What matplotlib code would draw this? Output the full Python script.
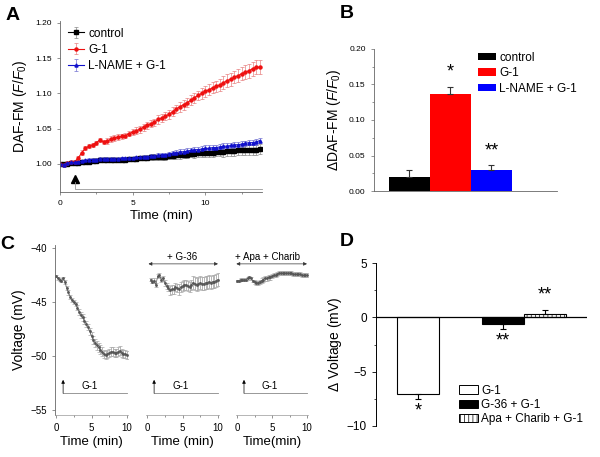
import numpy as np
import matplotlib
matplotlib.use("Agg")
import matplotlib.pyplot as plt
from matplotlib.patches import Patch

plt.rcParams['font.family'] = ['Liberation Sans', 'DejaVu Sans']
plt.rcParams['mathtext.fontset'] = 'custom'
plt.rcParams['mathtext.rm'] = 'Liberation Sans'
plt.rcParams['mathtext.it'] = 'Liberation Sans:italic'
plt.rcParams['hatch.linewidth'] = 0.5

# ---------------- Panel A data (DAF-FM F/F0 vs time, 0.25 min sampling) ----------------
a_step = 0.25
a_series_names = ["control", "G-1", "L-NAME + G-1"]
a_control = [1.000, 1.000, 1.000, 1.001, 1.001, 1.001, 1.002, 1.002, 1.003, 1.004,
             1.004, 1.005, 1.005, 1.005, 1.005, 1.006, 1.006, 1.006, 1.006, 1.007,
             1.007, 1.007, 1.008, 1.008, 1.008, 1.009, 1.009, 1.009, 1.010, 1.010,
             1.011, 1.011, 1.012, 1.012, 1.013, 1.013, 1.014, 1.014, 1.015, 1.015,
             1.016, 1.016, 1.016, 1.017, 1.017, 1.017, 1.018, 1.018, 1.018, 1.019,
             1.019, 1.019, 1.020, 1.020, 1.020, 1.021]
a_control_err = [0.001, 0.001, 0.001, 0.001, 0.001, 0.001, 0.001, 0.001, 0.001, 0.001,
                 0.001, 0.001, 0.002, 0.002, 0.002, 0.002, 0.002, 0.002, 0.002, 0.002,
                 0.002, 0.003, 0.003, 0.003, 0.003, 0.003, 0.003, 0.004, 0.004, 0.004,
                 0.004, 0.004, 0.005, 0.005, 0.005, 0.005, 0.005, 0.006, 0.006, 0.006,
                 0.006, 0.006, 0.006, 0.006, 0.006, 0.007, 0.007, 0.007, 0.007, 0.007,
                 0.007, 0.007, 0.007, 0.007, 0.007, 0.007]
a_g1 = [1.000, 0.998, 1.001, 1.002, 1.003, 1.008, 1.016, 1.022, 1.025, 1.027,
        1.030, 1.034, 1.031, 1.032, 1.035, 1.037, 1.038, 1.039, 1.040, 1.043,
        1.045, 1.047, 1.049, 1.052, 1.055, 1.057, 1.059, 1.063, 1.065, 1.068,
        1.070, 1.074, 1.078, 1.081, 1.084, 1.087, 1.090, 1.094, 1.097, 1.100,
        1.103, 1.105, 1.108, 1.110, 1.112, 1.115, 1.118, 1.120, 1.123, 1.125,
        1.128, 1.130, 1.132, 1.135, 1.137, 1.137]
a_g1_err = [0.001, 0.001, 0.002, 0.002, 0.002, 0.003, 0.003, 0.003, 0.003, 0.003,
            0.003, 0.003, 0.003, 0.004, 0.004, 0.004, 0.004, 0.004, 0.004, 0.004,
            0.004, 0.005, 0.005, 0.005, 0.005, 0.005, 0.005, 0.006, 0.006, 0.006,
            0.006, 0.006, 0.006, 0.007, 0.007, 0.007, 0.007, 0.007, 0.007, 0.008,
            0.008, 0.008, 0.008, 0.008, 0.008, 0.009, 0.009, 0.009, 0.009, 0.009,
            0.009, 0.010, 0.010, 0.010, 0.010, 0.010]
a_lname = [1.000, 0.999, 1.001, 1.002, 1.002, 1.003, 1.004, 1.005, 1.006, 1.006,
           1.006, 1.007, 1.007, 1.007, 1.007, 1.007, 1.007, 1.008, 1.008, 1.008,
           1.008, 1.009, 1.009, 1.010, 1.010, 1.011, 1.011, 1.012, 1.013, 1.013,
           1.014, 1.015, 1.016, 1.017, 1.017, 1.018, 1.019, 1.020, 1.020, 1.021,
           1.022, 1.022, 1.023, 1.023, 1.024, 1.025, 1.025, 1.026, 1.027, 1.027,
           1.028, 1.029, 1.030, 1.030, 1.031, 1.033]
a_lname_err = [0.001, 0.001, 0.001, 0.001, 0.001, 0.001, 0.001, 0.001, 0.002, 0.002,
               0.002, 0.002, 0.002, 0.002, 0.002, 0.002, 0.002, 0.002, 0.002, 0.002,
               0.002, 0.002, 0.002, 0.003, 0.003, 0.003, 0.003, 0.003, 0.003, 0.003,
               0.003, 0.003, 0.004, 0.004, 0.004, 0.004, 0.004, 0.004, 0.004, 0.004,
               0.004, 0.004, 0.004, 0.004, 0.004, 0.004, 0.004, 0.004, 0.004, 0.004,
               0.004, 0.004, 0.004, 0.004, 0.004, 0.004]
a_time = np.arange(len(a_g1)) * a_step

# ---------------- Panel B data ----------------
b_labels = ["control", "G-1", "L-NAME + G-1"]
b_values = [0.020, 0.136, 0.030]
b_errors = [0.010, 0.011, 0.007]
b_colors = ["#000000", "#ff0000", "#0000ff"]
b_stars = ["", "*", "**"]

# ---------------- Panel C data (membrane voltage, 0.25 min sampling) ----------------
c_step = 0.25
c1_v = [-42.6, -42.8, -42.9, -43.0, -42.8, -43.1, -43.7, -44.1, -44.5, -44.8,
        -45.0, -45.2, -45.5, -45.9, -46.2, -46.4, -46.7, -47.0, -47.3, -47.7,
        -48.1, -48.5, -48.8, -49.0, -49.2, -49.4, -49.6, -49.8, -49.9, -49.8,
        -49.7, -49.6, -49.6, -49.7, -49.7, -49.6, -49.5, -49.7, -49.8, -49.8, -49.9]
c1_e = [0.1, 0.1, 0.1, 0.1, 0.1, 0.2, 0.2, 0.2, 0.2, 0.2,
        0.2, 0.2, 0.2, 0.3, 0.3, 0.3, 0.3, 0.3, 0.3, 0.3,
        0.3, 0.4, 0.4, 0.4, 0.4, 0.4, 0.4, 0.4, 0.4, 0.4,
        0.4, 0.4, 0.4, 0.4, 0.4, 0.4, 0.4, 0.4, 0.4, 0.4, 0.4]
c2_v = [-42.9, -43.1, -43.0, -43.4, -42.6, -42.5, -42.9, -42.8, -43.2, -43.5,
        -43.7, -43.9, -43.8, -43.8, -43.6, -43.7, -43.8, -43.6, -43.5, -43.4,
        -43.4, -43.5, -43.6, -43.4, -43.2, -43.3, -43.4, -43.3, -43.2, -43.3,
        -43.3, -43.2, -43.2, -43.1, -43.2, -43.1, -43.1, -43.0, -42.9]
c2_e = [0.1, 0.1, 0.2, 0.2, 0.2, 0.2, 0.2, 0.2, 0.3, 0.3,
        0.3, 0.4, 0.4, 0.4, 0.4, 0.4, 0.5, 0.5, 0.5, 0.5,
        0.5, 0.5, 0.5, 0.5, 0.6, 0.6, 0.6, 0.6, 0.6, 0.6,
        0.6, 0.6, 0.6, 0.6, 0.6, 0.6, 0.6, 0.6, 0.6]
c2_start = 0.5
c3_v = [-43.0, -43.0, -42.9, -42.9, -42.9, -42.9, -42.8, -42.7, -42.8, -43.0,
        -43.1, -43.2, -43.2, -43.1, -43.0, -42.9, -42.8, -42.8, -42.7, -42.7,
        -42.6, -42.5, -42.5, -42.4, -42.3, -42.3, -42.3, -42.3, -42.3, -42.3,
        -42.3, -42.3, -42.4, -42.4, -42.4, -42.4, -42.4, -42.5, -42.5, -42.5, -42.5]
c3_e = [0.1, 0.1, 0.1, 0.1, 0.1, 0.1, 0.1, 0.1, 0.1, 0.1,
        0.2, 0.2, 0.2, 0.2, 0.2, 0.2, 0.2, 0.2, 0.2, 0.2,
        0.2, 0.2, 0.2, 0.2, 0.2, 0.2, 0.2, 0.2, 0.2, 0.2,
        0.2, 0.2, 0.2, 0.2, 0.2, 0.2, 0.2, 0.2, 0.2, 0.2, 0.2]
c_treat = ["", "+ G-36", "+ Apa + Charib"]
c_xlabels = ["Time (min)", "Time (min)", "Time(min)"]

# ---------------- Panel D data ----------------
d_labels = ["G-1", "G-36 + G-1", "Apa + Charib + G-1"]
d_values = [-7.1, -0.6, 0.35]
d_errors = [0.4, 0.5, 0.35]
d_stars = ["*", "**", "**"]

# ================= Figure =================
W, H = 600, 457
fig = plt.figure(figsize=(W / 100, H / 100), dpi=100)


def px_axes(x0, y0, x1, y1):
    return fig.add_axes([x0 / W, 1 - y1 / H, (x1 - x0) / W, (y1 - y0) / H])


spine_col = "#666666"

# ---------------- Panel A ----------------
axA = px_axes(60, 21, 262, 192)
series = [(a_control, a_control_err, "k", "#888888", "s", "control"),
          (a_g1, a_g1_err, "#ee1111", "#e88080", "o", "G-1"),
          (a_lname, a_lname_err, "#1010cc", "#7070d0", "^", "L-NAME + G-1")]
for vals, errs, col, ecol, mk, lab in series:
    axA.errorbar(a_time, vals, yerr=errs, color=col, ecolor=ecol, marker=mk,
                 ms=2.2, lw=0.8, elinewidth=0.5, capsize=1.2, capthick=0.5,
                 label=lab)
axA.set_xlim(0, 13.9)
axA.set_ylim(0.960, 1.2027)
axA.set_yticks([1.00, 1.05, 1.10, 1.15, 1.20])
axA.set_yticklabels(["1.00", "1.05", "1.10", "1.15", "1.20"])
axA.set_xticks([0, 5, 10])
axA.set_xticks([2.5, 7.5, 12.5], minor=True)
axA.tick_params(labelsize=6, length=2.5, width=0.5, color=spine_col)
axA.tick_params(which='minor', length=1.5, width=0.5, color=spine_col)
for s in ["top", "right"]:
    axA.spines[s].set_visible(False)
for s in ["left", "bottom"]:
    axA.spines[s].set_color(spine_col)
    axA.spines[s].set_linewidth(0.6)
axA.set_xlabel("Time (min)", fontsize=9.5, labelpad=2)
axA.set_ylabel("DAF-FM ($F/F_0$)", fontsize=10, labelpad=4)
# G-1 application arrow marker
axA.plot([1.0], [0.9787], marker="^", color="k", ms=6, clip_on=False)
axA.plot([1.0, 1.0, 13.9], [0.9735, 0.9646, 0.9646], color="#999999", lw=0.6,
         clip_on=False)
axA.legend(loc="upper left", bbox_to_anchor=(0.0, 1.01), frameon=False,
           fontsize=8.5, handlelength=1.3, handletextpad=0.4,
           labelspacing=0.35, borderaxespad=0.3)

# ---------------- Panel B ----------------
axB = px_axes(374, 49, 557, 191)
b_pos = np.arange(1, len(b_values) + 1)
axB.bar(b_pos, b_values, width=1.0, color=b_colors, edgecolor="none")
for x, v, e in zip(b_pos, b_values, b_errors):
    axB.errorbar([x], [v], yerr=[[0], [e]], ecolor="#333333",
                 elinewidth=0.8, capsize=2.5, capthick=0.8, fmt="none")
for x, v, e, st in zip(b_pos, b_values, b_errors, b_stars):
    if st:
        axB.text(x, v + e + 0.008, st, ha="center", va="bottom", fontsize=13)
axB.set_xlim(0.134, 4.6)
axB.set_ylim(0, 0.2)
axB.set_yticks([0, 0.05, 0.10, 0.15, 0.20])
axB.set_yticklabels(["0.00", "0.05", "0.10", "0.15", "0.20"])
axB.set_yticks([0.025, 0.075, 0.125, 0.175], minor=True)
axB.set_xticks([])
axB.tick_params(labelsize=6, length=2.5, width=0.5, color=spine_col)
axB.tick_params(which='minor', length=1.5, width=0.5, color=spine_col)
for s in ["top", "right"]:
    axB.spines[s].set_visible(False)
for s in ["left", "bottom"]:
    axB.spines[s].set_color(spine_col)
    axB.spines[s].set_linewidth(0.6)
axB.set_ylabel(r"$\Delta$DAF-FM ($F/F_0$)", fontsize=10, labelpad=4)
handlesB = [Patch(facecolor=c, edgecolor="none") for c in b_colors]
axB.legend(handlesB, b_labels, loc="upper left", bbox_to_anchor=(0.53, 1.03),
           frameon=False, fontsize=8.5, handlelength=1.5, handleheight=0.6,
           handletextpad=0.3, labelspacing=0.3, borderaxespad=0.2)

# ---------------- Panel C ----------------
c_boxes = [(55.3, 127.7), (146.3, 218.7), (236.3, 307.7)]
c_data = [(0.0, c1_v, c1_e), (c2_start, c2_v, c2_e), (0.0, c3_v, c3_e)]
for i, ((x0, x1), (t0, vals, errs)) in enumerate(zip(c_boxes, c_data)):
    ax = px_axes(x0, 245, x1, 415)
    t = t0 + np.arange(len(vals)) * c_step
    ax.errorbar(t, vals, yerr=errs, color="#555555", ecolor="#a8a8a8",
                marker="s", ms=0.9, lw=0.5, elinewidth=0.6, capsize=1.2,
                capthick=0.5)
    ax.set_xlim(-0.1, 10.1)
    ax.set_ylim(-55.46, -39.7)
    ax.set_xticks([0, 5, 10])
    ax.set_xticks([2.5, 7.5], minor=True)
    ax.tick_params(labelsize=7, length=2.5, width=0.5, color=spine_col)
    ax.tick_params(which='minor', length=1.5, width=0.5, color=spine_col)
    for s in ["top", "right"]:
        ax.spines[s].set_visible(False)
    ax.spines["bottom"].set_color("#999999")
    ax.spines["bottom"].set_linewidth(0.5)
    if i == 0:
        ax.set_yticks([-40, -45, -50, -55])
        ax.spines["left"].set_color(spine_col)
        ax.spines["left"].set_linewidth(0.6)
        ax.set_ylabel("Voltage (mV)", fontsize=10, labelpad=3)
    else:
        ax.spines["left"].set_visible(False)
        ax.set_yticks([])
    ax.set_xlabel(c_xlabels[i], fontsize=9.5, labelpad=2)
    # G-1 application annotation
    ax.annotate("", xy=(1.0, -52.2), xytext=(1.0, -53.45),
                arrowprops=dict(arrowstyle="-|>", color="k", lw=0.5,
                                mutation_scale=5, shrinkA=0, shrinkB=0))
    ax.plot([1.0, 10.0], [-53.45, -53.45], color="#888888", lw=0.6)
    ax.text(4.7, -52.75, "G-1", fontsize=7, ha="center", va="center")
    if c_treat[i]:
        ax.annotate("", xy=(0.2 if i == 1 else -0.1, -41.45),
                    xytext=(10.0, -41.45),
                    arrowprops=dict(arrowstyle="<|-|>", color="#333333",
                                    lw=0.5, mutation_scale=5, shrinkA=0,
                                    shrinkB=0), annotation_clip=False)
        ax.text(5.0 if i == 1 else 4.4, -40.85, c_treat[i], fontsize=7,
                ha="center", va="center")

# ---------------- Panel D ----------------
axD = px_axes(376, 263, 587, 426)
d_pos = [1, 3, 4]
d_face = ["white", "black", "white"]
d_hatch = [None, None, "||||"]
bars = axD.bar(d_pos, d_values, width=1.0, color=d_face, edgecolor="black",
               linewidth=0.8)
for b, h in zip(bars, d_hatch):
    if h:
        b.set_hatch(h)
for x, v, e in zip(d_pos, d_values, d_errors):
    lo, hi = ([e], [0]) if v < 0 else ([0], [e])
    axD.errorbar([x], [v], yerr=[lo, hi], ecolor="black", elinewidth=0.8,
                 capsize=2.5, capthick=0.8, fmt="none")
for x, v, e, st in zip(d_pos, d_values, d_errors, d_stars):
    if v < 0:
        axD.text(x, v - e - 0.3, st, ha="center", va="top", fontsize=13)
    else:
        axD.text(x, v + e + 0.6, st, ha="center", va="bottom", fontsize=13)
axD.axhline(0, color="black", lw=0.9)
axD.set_xlim(0, 5)
axD.set_ylim(-10, 5)
axD.set_yticks([-10, -5, 0, 5])
axD.set_yticks([-7.5, -2.5, 2.5], minor=True)
axD.set_xticks([])
axD.tick_params(labelsize=8.5, length=3, width=0.6)
axD.tick_params(which='minor', length=1.8, width=0.5)
for s in ["top", "right", "bottom"]:
    axD.spines[s].set_visible(False)
axD.spines["left"].set_linewidth(0.7)
axD.set_ylabel(r"$\Delta$ Voltage (mV)", fontsize=10, labelpad=2)
handlesD = [Patch(facecolor=f, edgecolor="black", hatch=h, linewidth=0.7)
            for f, h in zip(d_face, d_hatch)]
axD.legend(handlesD, d_labels, loc="lower left", bbox_to_anchor=(0.36, -0.04),
           frameon=False, fontsize=8.5, handlelength=1.6, handleheight=0.7,
           handletextpad=0.3, labelspacing=0.2, borderaxespad=0.2)

# ---------------- Panel letters ----------------
for lab, x, y in [("A", 13, 16), ("B", 347, 14), ("C", 7, 244), ("D", 347, 242)]:
    fig.text(x / W, 1 - y / H, lab, fontsize=14, fontweight="bold",
             ha="center", va="center")

fig.savefig("out.png", dpi=100)
